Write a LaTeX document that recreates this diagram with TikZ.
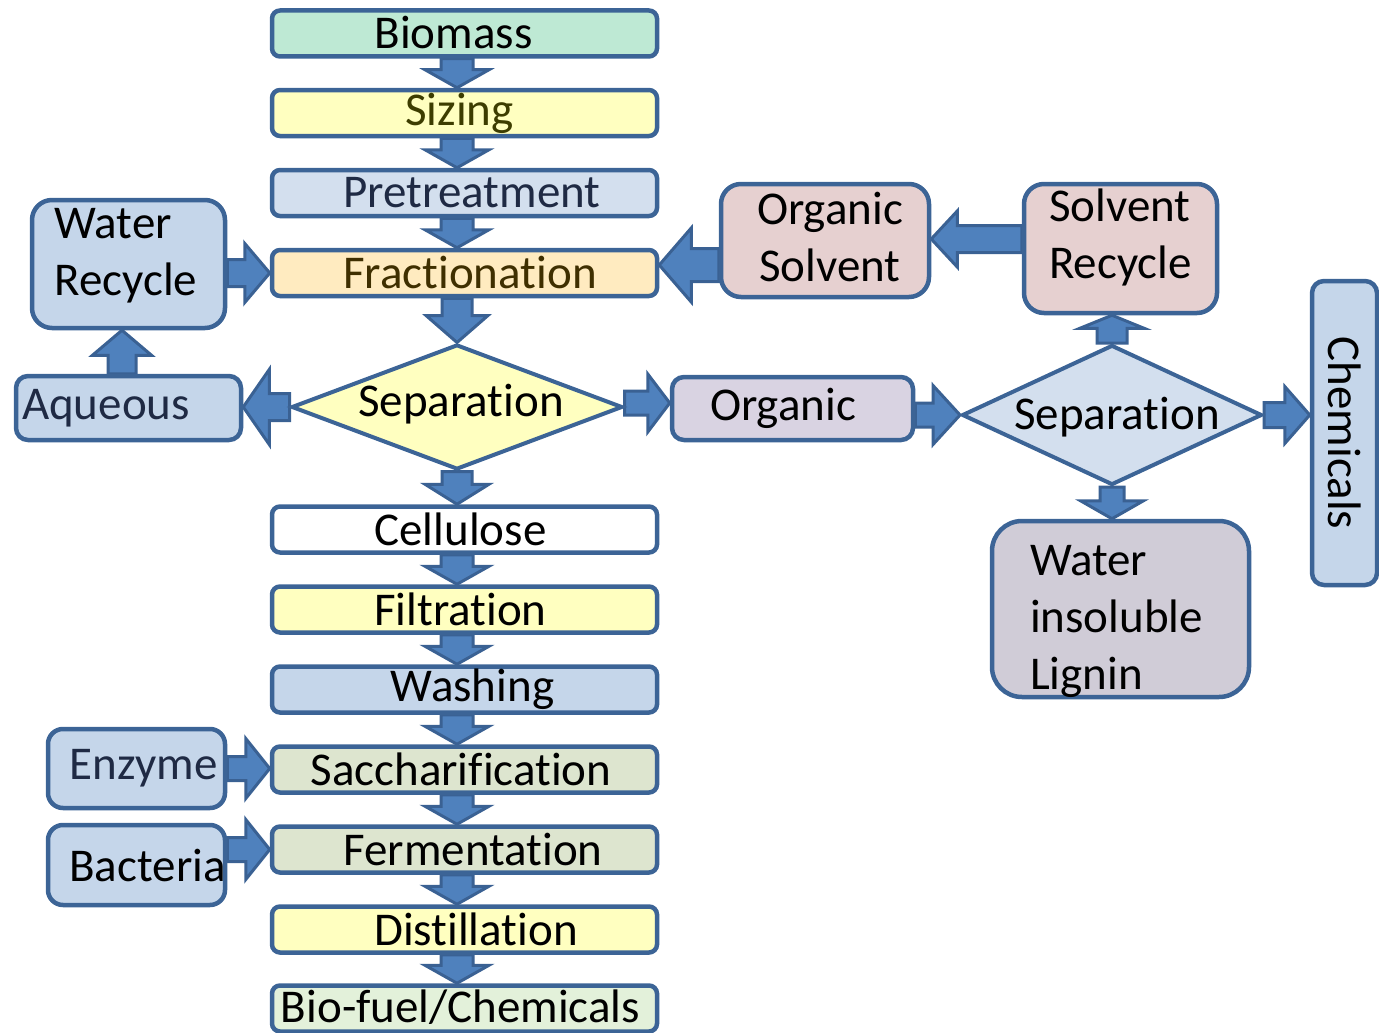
\documentclass[tikz,border=0pt]{standalone}
\usepackage{fontspec}
\setmainfont{Carlito}[Ligatures=CommonOff]
\usetikzlibrary{shapes.geometric,calc}
\pgfdeclarelayer{bg}
\pgfsetlayers{bg,main}
\definecolor{bord}{HTML}{3C6496}
\definecolor{afill}{HTML}{4F81BD}
\definecolor{aline}{HTML}{3A6193}
\definecolor{cmint}{HTML}{BEE9D4}
\definecolor{cyel}{HTML}{FFFFC0}
\definecolor{cpale}{HTML}{D3DFEE}
\definecolor{corange}{HTML}{FFEBC0}
\definecolor{cblue}{HTML}{C5D6EA}
\definecolor{cpink}{HTML}{E6D0D0}
\definecolor{clav}{HTML}{D9D3E2}
\definecolor{cgrey}{HTML}{D0CCD7}
\definecolor{colive}{HTML}{DDE5CF}
\definecolor{cgreen}{HTML}{E3F1DA}
\definecolor{tolive}{HTML}{3D3D00}
\definecolor{tbrown}{HTML}{3F2F00}
\definecolor{tnavy}{HTML}{1F2A44}
\newcommand{\blockarr}[5]{%
  \coordinate (ba-hb) at ($(#2)!#5!(#1)$);
  \draw[barrow] ($(#1)!#3!90:(#2)$) -- ($(ba-hb)!#3!90:(#2)$) -- ($(ba-hb)!#4!90:(#2)$) -- (#2)
    -- ($(ba-hb)!#4!-90:(#2)$) -- ($(ba-hb)!#3!-90:(#2)$) -- ($(#1)!#3!-90:(#2)$) -- cycle;}
\tikzset{
  box/.style={draw=bord, line width=4.5pt, rounded corners=8pt, inner sep=0pt,
    minimum width=385pt, minimum height=46pt},
  sbox/.style={draw=bord, line width=4.5pt, inner sep=0pt},
  dia/.style={diamond, draw=bord, line width=4pt, inner sep=0pt},
  every label/.style={inner sep=0pt, font=\fontsize{47}{57}\selectfont, text=black},
  barrow/.style={fill=afill, draw=aline, line width=3pt, line join=miter},
}
\begin{document}
\begin{tikzpicture}[x=1pt,y=-1pt]
\useasboundingbox (0,0) rectangle (1379,1033);
% main column
\node[box, fill=cmint, label={[xshift=-11pt,yshift=1pt]center:Biomass}] (biomass) at (464.5,33.5) {};
\node[box, fill=cyel, label={[xshift=-5pt,text=tolive]center:Sizing}] (sizing) at (464.5,113) {};
\node[box, fill=cpale, label={[xshift=7.5pt,text=tnavy]center:Pretreatment}] (pretreat) at (464.5,193) {};
\node[box, fill=corange, label={[xshift=5.5pt,text=tbrown]center:Fractionation}] (fraction) at (464.5,273) {};
\node[dia, fill=cyel, minimum width=331pt, minimum height=125pt, aspect=2.65,
  label={[xshift=4pt,yshift=3pt]center:Separation}] (sep1) at (457,407) {};
\node[box, fill=white, label={[xshift=-4pt]center:Cellulose}] (cellulose) at (464.5,529.5) {};
\node[box, fill=cyel, label={[xshift=-4pt]center:Filtration}] (filtration) at (464.5,609.5) {};
\node[box, fill=cblue, label={[xshift=8pt]center:Washing}] (washing) at (464.5,689.5) {};
\node[box, fill=colive, label={[xshift=-3.5pt]center:Saccharification}] (sacch) at (464.5,769.5) {};
\node[box, fill=colive, label={[xshift=8.5pt]center:Fermentation}] (ferm) at (464.5,849.5) {};
\node[box, fill=cyel, label={[xshift=11.5pt]center:Distillation}] (distill) at (464.5,929.5) {};
\node[box, fill=cgreen, label={[xshift=-4pt,yshift=1pt]center:Bio-fuel/Chemicals}] (biofuel) at (464.5,1008.5) {};
% side boxes
\node[sbox, fill=cblue, rounded corners=20pt, minimum width=193pt, minimum height=128pt,
  label={[align=left,xshift=-2.5pt,yshift=8pt]center:Water\\Recycle}] (waterrec) at (128.5,264) {};
\node[sbox, fill=cblue, rounded corners=12pt, minimum width=225pt, minimum height=64pt,
  label={[xshift=-22.5pt,text=tnavy]center:Aqueous}] (aqueous) at (128.5,408) {};
\node[sbox, fill=cpink, rounded corners=20pt, minimum width=208pt, minimum height=113pt,
  label={[align=center,xshift=5pt,yshift=3pt]center:Organic\\Solvent}] (orgsolv) at (825,240.5) {};
\node[sbox, fill=cpink, rounded corners=20pt, minimum width=193pt, minimum height=129pt,
  label={[align=left,yshift=11pt]center:Solvent\\Recycle}] (solvrec) at (1120.5,248.5) {};
\node[sbox, fill=clav, rounded corners=12pt, minimum width=241pt, minimum height=63pt,
  label={[xshift=-9.5pt]center:Organic}] (organic) at (792.5,408.5) {};
\node[dia, fill=cpale, minimum width=300pt, minimum height=140pt, aspect=2.14,
  label={[xshift=5pt,yshift=-2pt]center:Separation}] (sep2) at (1112,415) {};
\node[sbox, fill=cblue, rounded corners=12pt, minimum width=65pt, minimum height=304pt,
  label={[rotate=-90]center:Chemicals}] (chem) at (1344.5,433) {};
\node[sbox, fill=cgrey, rounded corners=30pt, minimum width=257pt, minimum height=176pt,
  label={[align=left,xshift=-4pt,yshift=-12pt]center:Water\\insoluble\\Lignin}] (lignin) at (1120.5,609) {};
\node[sbox, fill=cblue, rounded corners=15pt, minimum width=177pt, minimum height=79pt,
  label={[xshift=7pt,text=tnavy]center:Enzyme}] (enzyme) at (136.5,768.5) {};
\node[sbox, fill=cblue, rounded corners=15pt, minimum width=177pt, minimum height=80pt,
  label={[xshift=11pt]center:Bacteria}] (bacteria) at (136.5,865) {};
% arrows
\begin{pgfonlayer}{bg}
\foreach \a/\b in {biomass/sizing, sizing/pretreat, pretreat/fraction, cellulose/filtration,
  filtration/washing, washing/sacch, sacch/ferm, ferm/distill, distill/biofuel} {
  \coordinate (s) at ([xshift=-7.5pt]\a.south);
  \coordinate (e) at ([xshift=-7.5pt]\b.north);
  \blockarr{s}{e}{16pt}{32pt}{18pt}
}
\coordinate (s) at ([xshift=-7.5pt]fraction.south);
\blockarr{s}{sep1.north}{15pt}{31pt}{27pt}
\coordinate (e) at ([xshift=-7.5pt]cellulose.north);
\blockarr{sep1.south}{e}{15pt}{32pt}{20pt}
\coordinate (s) at (waterrec.east |- fraction.west);
\blockarr{s}{fraction.west}{13.5pt}{29.5pt}{25pt}
\coordinate (s) at ([xshift=-6.5pt]aqueous.north);
\coordinate (e) at ([xshift=-6.5pt]waterrec.south);
\blockarr{s}{e}{14pt}{29.5pt}{25pt}
\coordinate (e) at (aqueous.east |- sep1.west);
\blockarr{sep1.west}{e}{13.5pt}{37.5pt}{26pt}
\coordinate (s) at ([yshift=-24.5pt]orgsolv.west);
\coordinate (e) at (fraction.east |- s);
\blockarr{s}{e}{16.5pt}{37pt}{32pt}
\coordinate (s) at ([yshift=9.5pt]solvrec.west);
\coordinate (e) at (orgsolv.east |- s);
\blockarr{s}{e}{13.5pt}{28pt}{26pt}
\coordinate (s) at ([yshift=4pt]sep1.east);
\coordinate (e) at (organic.west |- s);
\blockarr{s}{e}{12pt}{29pt}{22pt}
\coordinate (s) at (organic.east |- sep2.west);
\blockarr{s}{sep2.west}{12pt}{29.5pt}{27pt}
\coordinate (e) at (sep2.north |- solvrec.south);
\blockarr{sep2.north}{e}{15pt}{32pt}{13pt}
\coordinate (e) at (chem.west |- sep2.east);
\blockarr{sep2.east}{e}{12.5pt}{28.5pt}{25pt}
\coordinate (e) at (sep2.south |- lignin.north);
\blockarr{sep2.south}{e}{12pt}{31.5pt}{18pt}
\coordinate (e) at (sacch.west |- enzyme.east);
\blockarr{enzyme.east}{e}{12pt}{30pt}{24pt}
\coordinate (s) at (bacteria.east |- ferm.west);
\blockarr{s}{ferm.west}{12pt}{30pt}{24pt}
\end{pgfonlayer}
\end{tikzpicture}
\end{document}
